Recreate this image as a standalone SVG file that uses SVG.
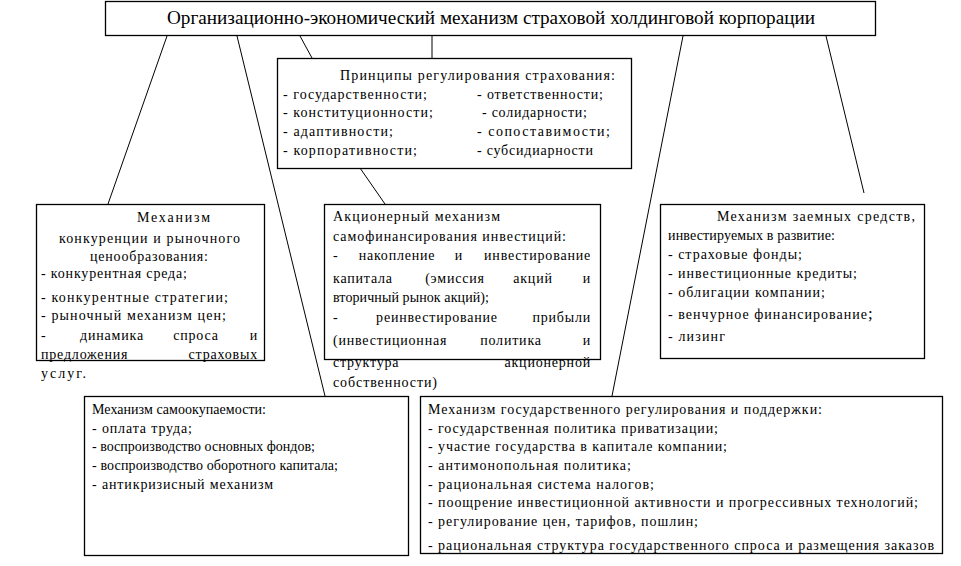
<svg xmlns="http://www.w3.org/2000/svg" width="961" height="566" viewBox="0 0 961 566">
<style>
rect{fill:#fff;stroke:#000;stroke-width:1.3}
line{stroke:#000;stroke-width:1}
text{font-family:"Liberation Serif","Times New Roman",serif;font-size:14px;fill:#000}
.t{font-size:18px}
.j{letter-spacing:0.8px}
.m{text-anchor:middle;letter-spacing:0.8px}
.e{text-anchor:end;letter-spacing:0.8px}
</style>
<rect x="0" y="0" width="961" height="566" style="stroke:none"/>
<g id="connectors">
<line x1="167" y1="36" x2="108" y2="204"/>
<line x1="237" y1="36" x2="325" y2="396"/>
<line x1="300" y1="36" x2="312" y2="58"/>
<line x1="432" y1="36" x2="432" y2="58"/>
<line x1="683" y1="36" x2="612" y2="396"/>
<line x1="826" y1="36" x2="864" y2="193"/>
<line x1="360" y1="168" x2="385" y2="204"/>
</g>
<g id="title">
<rect x="105.5" y="1.5" width="770" height="34"/>
<text class="t" x="167" y="24" textLength="648" lengthAdjust="spacingAndGlyphs">Организационно-экономический механизм страховой холдинговой корпорации</text>
</g>
<g id="principles">
<rect x="277.5" y="58.5" width="354" height="110"/>
<text x="340" y="80" textLength="275" lengthAdjust="spacing">Принципы регулирования страхования:</text>
<text x="283" y="99" textLength="144" lengthAdjust="spacing">- государственности;</text>
<text x="477" y="99" textLength="126" lengthAdjust="spacing">- ответственности;</text>
<text x="283" y="117" textLength="150" lengthAdjust="spacing">- конституционности;</text>
<text x="482" y="117" textLength="105" lengthAdjust="spacing">- солидарности;</text>
<text x="283" y="136" textLength="110" lengthAdjust="spacing">- адаптивности;</text>
<text x="477" y="136" textLength="133" lengthAdjust="spacing">- сопоставимости;</text>
<text x="283" y="155" textLength="134" lengthAdjust="spacing">- корпоративности;</text>
<text x="477" y="155" textLength="116" lengthAdjust="spacing">- субсидиарности</text>
</g>
<g id="competition">
<rect x="36.5" y="204.5" width="228" height="156"/>
<text x="137" y="222" textLength="73" lengthAdjust="spacing">Механизм</text>
<text x="59" y="243" textLength="181" lengthAdjust="spacing">конкуренции и рыночного</text>
<text x="90" y="261" textLength="118" lengthAdjust="spacing">ценообразования:</text>
<text x="41" y="278" textLength="146" lengthAdjust="spacing">- конкурентная среда;</text>
<text x="41" y="302" textLength="187" lengthAdjust="spacing">- конкурентные стратегии;</text>
<text x="41" y="320" textLength="185" lengthAdjust="spacing">- рыночный механизм цен;</text>
<text class="j" x="41" y="340">-</text>
<text class="m" x="112" y="340">динамика</text>
<text class="m" x="196" y="340">спроса</text>
<text class="e" x="258" y="340">и</text>
<text class="j" x="41" y="359">предложения</text>
<text class="e" x="258" y="359">страховых</text>
<text x="41" y="378" textLength="45" lengthAdjust="spacing">услуг.</text>
</g>
<g id="shareholder">
<rect x="324.5" y="204.5" width="276" height="155"/>
<text x="333" y="221" textLength="167" lengthAdjust="spacing">Акционерный механизм</text>
<text x="333" y="241" textLength="233" lengthAdjust="spacing">самофинансирования инвестиций:</text>
<text class="j" x="333" y="260">-</text>
<text class="m" x="397" y="260">накопление</text>
<text class="m" x="459" y="260">и</text>
<text class="e" x="591" y="260">инвестирование</text>
<text class="j" x="333" y="283">капитала</text>
<text class="m" x="455" y="283">(эмиссия</text>
<text class="m" x="533" y="283">акций</text>
<text class="e" x="591" y="283">и</text>
<text x="333" y="302" textLength="156" lengthAdjust="spacing">вторичный рынок акций);</text>
<text class="j" x="333" y="322">-</text>
<text class="m" x="437" y="322">реинвестирование</text>
<text class="e" x="591" y="322">прибыли</text>
<text class="j" x="333" y="345">(инвестиционная</text>
<text class="m" x="511" y="345">политика</text>
<text class="e" x="591" y="345">и</text>
<text class="j" x="333" y="367">структура</text>
<text class="e" x="591" y="367">акционерной</text>
<text x="333" y="387" textLength="104" lengthAdjust="spacing">собственности)</text>
</g>
<g id="borrowed">
<rect x="660.5" y="204.5" width="264" height="154"/>
<text x="717" y="221" textLength="198" lengthAdjust="spacing">Механизм заемных  средств,</text>
<text x="668" y="240" textLength="167" lengthAdjust="spacing">инвестируемых в развитие:</text>
<text x="668" y="259" textLength="134" lengthAdjust="spacing">- страховые фонды;</text>
<text x="668" y="278" textLength="189" lengthAdjust="spacing">- инвестиционные кредиты;</text>
<text x="668" y="297" textLength="157" lengthAdjust="spacing">- облигации компании;</text>
<text x="668" y="319"><tspan textLength="199" lengthAdjust="spacing">- венчурное финансирование</tspan><tspan style="font-size:17px">;</tspan></text>
<text x="668" y="341" textLength="57" lengthAdjust="spacing">- лизинг</text>
</g>
<g id="selfpayback">
<rect x="84.5" y="396.5" width="324" height="159"/>
<text x="92" y="414" textLength="174" lengthAdjust="spacing">Механизм самоокупаемости:</text>
<text x="92" y="433" textLength="100" lengthAdjust="spacing">- оплата труда;</text>
<text x="92" y="451" textLength="223" lengthAdjust="spacing">- воспроизводство основных фондов;</text>
<text x="92" y="470" textLength="246" lengthAdjust="spacing">- воспроизводство оборотного капитала;</text>
<text x="92" y="489" textLength="181" lengthAdjust="spacing">- антикризисный механизм</text>
</g>
<g id="state">
<rect x="420.5" y="396.5" width="522" height="157"/>
<text x="428" y="414" textLength="394" lengthAdjust="spacing">Механизм государственного регулирования и поддержки:</text>
<text x="428" y="433" textLength="290" lengthAdjust="spacing">- государственная политика приватизации;</text>
<text x="428" y="451" textLength="299" lengthAdjust="spacing">- участие государства в капитале компании;</text>
<text x="428" y="470" textLength="203" lengthAdjust="spacing">- антимонопольная политика;</text>
<text x="428" y="489" textLength="226" lengthAdjust="spacing">- рациональная система налогов;</text>
<text x="428" y="507" textLength="490" lengthAdjust="spacing">- поощрение инвестиционной активности и прогрессивных технологий;</text>
<text x="428" y="526" textLength="270" lengthAdjust="spacing">- регулирование цен, тарифов, пошлин;</text>
<text x="428" y="550" textLength="506" lengthAdjust="spacing">- рациональная структура государственного спроса  и размещения заказов</text>
</g>
</svg>
